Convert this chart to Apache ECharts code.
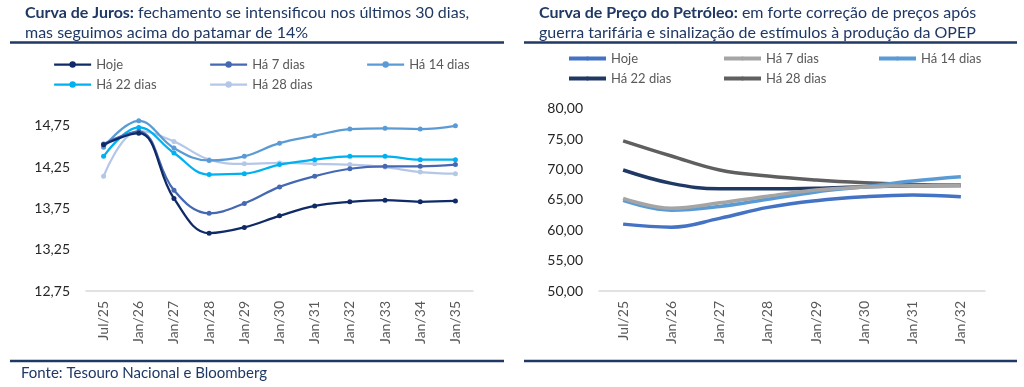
<!DOCTYPE html>
<html><head><meta charset="utf-8">
<script src="https://cdn.jsdelivr.net/npm/echarts@6/dist/echarts.min.js"></script>
<style>html,body{margin:0;padding:0;background:#fff}#wrap{display:flex;width:1024px;height:387px}#c1,#c2{width:512px;height:387px}</style>
</head><body><div id="wrap"><div id="c1"></div><div id="c2"></div></div>
<script>
// ---- Curva de Juros ----
const juroCategories = ['Jul/25','Jan/26','Jan/27','Jan/28','Jan/29','Jan/30','Jan/31','Jan/32','Jan/33','Jan/34','Jan/35'];
const juroHoje   = [14.52, 14.66, 13.87, 13.45, 13.52, 13.66, 13.78, 13.83, 13.85, 13.83, 13.84];
const juro7d     = [14.53, 14.68, 13.97, 13.69, 13.81, 14.01, 14.14, 14.23, 14.26, 14.26, 14.28];
const juro14d    = [14.49, 14.81, 14.48, 14.33, 14.38, 14.54, 14.63, 14.71, 14.72, 14.71, 14.75];
const juro22d    = [14.38, 14.73, 14.42, 14.16, 14.17, 14.28, 14.34, 14.38, 14.38, 14.34, 14.34];
const juro28d    = [14.14, 14.69, 14.56, 14.34, 14.29, 14.30, 14.29, 14.28, 14.25, 14.19, 14.17];
const juroYTicks = [12.75, 13.25, 13.75, 14.25, 14.75];

// ---- Curva de Preço do Petróleo ----
const oilCategories = ['Jul/25','Jan/26','Jan/27','Jan/28','Jan/29','Jan/30','Jan/31','Jan/32'];
const oilHoje = [61.0, 60.5, 61.95, 63.75, 64.85, 65.5, 65.8, 65.5];
const oil7d   = [65.25, 63.6, 64.5, 65.6, 66.6, 67.1, 67.3, 67.3];
const oil14d  = [64.9, 63.3, 63.9, 65.1, 66.3, 67.15, 68.1, 68.8];
const oil22d  = [69.9, 67.7, 66.8, 66.8, 66.9, 67.15, 67.3, 67.35];
const oil28d  = [74.7, 72.2, 69.9, 68.9, 68.25, 67.8, 67.5, 67.4];
const oilYTicks = [50, 55, 60, 65, 70, 75, 80];

const seriesNames = ['Hoje','Há 7 dias','Há 14 dias','Há 22 dias','Há 28 dias'];
const FONT = 'Lato';
const NAVY = '#1F3864';

function fmt(v){ return v.toFixed(2).replace('.', ','); }

function legends(names, pos, iconH, lw){
  return names.map((n,i)=>({
    data:[n], left: pos[i][0], top: pos[i][1], padding:0,
    itemWidth: 37, itemHeight: iconH, itemGap: 0,
    lineStyle:{width:lw},
    textStyle:{color:'#595959', fontSize:13, fontFamily:FONT}
  }));
}

function frame(x1, x2){
  return [
    {type:'line', shape:{x1:x1, y1:42.5, x2:x2, y2:42.5}, style:{stroke:NAVY, lineWidth:2.5}},
    {type:'line', shape:{x1:x1, y1:361, x2:x2, y2:361}, style:{stroke:NAVY, lineWidth:2.5}}
  ];
}

// Left chart
const c1 = echarts.init(document.getElementById('c1'));
const juroColors = ['#0F2A67','#4668B3','#5B9BD5','#00B0F0','#B4C7E7'];
const juroData = [juroHoje, juro7d, juro14d, juro22d, juro28d];
c1.setOption({
  animation:false,
  title:{
    left:20, top:-2,
    text:'{b|Curva de Juros:} fechamento se intensificou nos últimos 30 dias,\nmas seguimos acima do patamar de 14%',
    textStyle:{fontSize:16, fontWeight:'normal', color:NAVY, fontFamily:FONT, lineHeight:20,
      rich:{b:{fontSize:16, fontWeight:'bold', color:NAVY, fontFamily:FONT}}}
  },
  legend: legends(seriesNames, [[53,58],[209,58],[366,58],[53,78],[209,78]], 8, 2.25),
  graphic: frame(10, 504).concat([
    {type:'text', left:21, top:366, style:{text:'Fonte: Tesouro Nacional e Bloomberg', fill:NAVY, font:'15px '+FONT}}
  ]),
  grid:{left:86, right:39, top:84.5, bottom:96},
  xAxis:{type:'category', data:juroCategories, boundaryGap:true,
    axisLine:{lineStyle:{color:'#D9D9D9', width:1.5}}, axisTick:{show:false},
    axisLabel:{rotate:90, color:'#595959', fontSize:14, fontFamily:FONT, margin:10}},
  yAxis:{type:'value', min:12.75, max:15.25, interval:0.5,
    axisLine:{show:false}, axisTick:{show:false}, splitLine:{show:false},
    axisLabel:{showMaxLabel:false, color:'#262626', fontSize:14, fontFamily:FONT, margin:16,
      formatter:v=> juroYTicks.some(t=>Math.abs(t-v)<1e-6) ? fmt(v) : ''}},
  series: seriesNames.map((n,i)=>({
    name:n, type:'line', data:juroData[i], smooth:0.4,
    symbol:'circle', symbolSize:5, showSymbol:true,
    lineStyle:{width:2.25, color:juroColors[i]}, itemStyle:{color:juroColors[i]},
    z: 10 - i
  }))
});

// Right chart
const c2 = echarts.init(document.getElementById('c2'));
const oilColors = ['#4472C4','#A5A5A5','#5B9BD5','#203864','#5F5F5F'];
const oilData = [oilHoje, oil7d, oil14d, oil22d, oil28d];
c2.setOption({
  animation:false,
  title:{
    left:22, top:-2,
    text:'{b|Curva de Preço do Petróleo:} em forte correção de preços após\nguerra tarifária e sinalização de estímulos à produção da OPEP',
    textStyle:{fontSize:16, fontWeight:'normal', color:NAVY, fontFamily:FONT, lineHeight:20,
      rich:{b:{fontSize:16, fontWeight:'bold', color:NAVY, fontFamily:FONT}}}
  },
  legend: legends(seriesNames, [[55,52],[210,52],[365,52],[55,72],[210,72]], 5, 4),
  graphic: frame(12, 505),
  grid:{left:87, right:39, top:108.6, bottom:96},
  xAxis:{type:'category', data:oilCategories, boundaryGap:true,
    axisLine:{lineStyle:{color:'#D9D9D9', width:1.5}}, axisTick:{show:false},
    axisLabel:{rotate:90, color:'#595959', fontSize:14, fontFamily:FONT, margin:10}},
  yAxis:{type:'value', min:oilYTicks[0], max:oilYTicks[oilYTicks.length-1], interval:5,
    axisLine:{show:false}, axisTick:{show:false}, splitLine:{show:false},
    axisLabel:{color:'#262626', fontSize:14, fontFamily:FONT, margin:16, formatter:v=>fmt(v)}},
  series: seriesNames.map((n,i)=>({
    name:n, type:'line', data:oilData[i], smooth:0.4,
    symbol:'circle', symbolSize:4, showSymbol:false,
    lineStyle:{width:3.5, color:oilColors[i]}, itemStyle:{color:oilColors[i]},
    z: 10 - i
  }))
});
</script></body></html>
